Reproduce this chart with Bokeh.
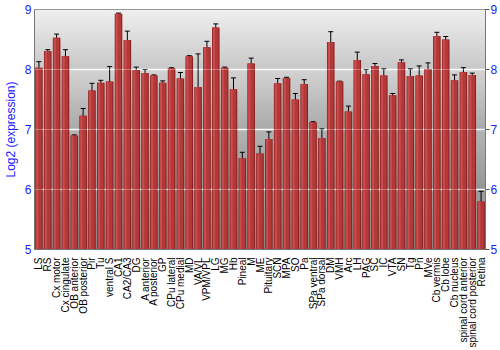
import numpy as np
from bokeh.plotting import figure
from bokeh.models import (ColumnDataSource, FactorRange, Range1d, LinearAxis, FixedTicker,
                          Whisker, TeeHead, Span)
from bokeh.transform import dodge
from bokeh.embed import file_html
from bokeh.resources import INLINE

regions = ["LS", "RS", "Cx motor", "Cx cingulate", "OB anterior", "OB posterior", "Pir", "Tu",
           "ventral S", "CA1", "CA2/CA3", "DG", "A anterior", "A posterior", "GP", "CPu lateral",
           "CPu medial", "MD", "VA/VL", "VPM/VPL", "LG", "MG", "Hb", "Pineal", "M", "ME",
           "Pituitary", "SCN", "MPA", "SO", "Pa", "SPa ventral", "SPa dorsal", "DM", "VMH", "Arc",
           "LH", "PAG", "SC", "IC", "VTA", "SN", "Tg", "Pn", "MVe", "Cb vermis", "Cb lobe",
           "Cb nucleus", "spinal cord anterior", "spinal cord posterior", "Retina"]
expression = [8.03, 8.31, 8.53, 8.22, 6.90, 7.23, 7.65, 7.78, 7.80, 8.93, 8.49, 7.99, 7.94, 7.90,
              7.78, 8.02, 7.85, 8.22, 7.71, 8.37, 8.70, 8.03, 7.67, 6.52, 8.10, 6.60, 6.84, 7.77,
              7.86, 7.50, 7.76, 7.12, 6.86, 8.46, 7.80, 7.30, 8.16, 7.92, 8.06, 7.90, 7.57, 8.12,
              7.89, 7.90, 8.01, 8.56, 8.50, 7.82, 7.96, 7.91, 5.80]
error = [0.10, 0.02, 0.06, 0.11, 0.01, 0.12, 0.12, 0.04, 0.25, 0.01, 0.15, 0.05, 0.06, 0.01,
         0.03, 0.01, 0.10, 0.01, 0.55, 0.10, 0.06, 0.01, 0.19, 0.10, 0.09, 0.12, 0.12, 0.08,
         0.01, 0.10, 0.07, 0.01, 0.15, 0.17, 0.005, 0.09, 0.13, 0.08, 0.04, 0.11, 0.03, 0.04,
         0.12, 0.16, 0.10, 0.06, 0.05, 0.09, 0.07, 0.03, 0.17]
y_ticks = [5, 6, 7, 8, 9]

src = ColumnDataSource(dict(
    cat=regions, val=expression,
    upper=[v + e for v, e in zip(expression, error)],
    lower=[v - e for v, e in zip(expression, error)],
))

p = figure(width=500, height=350, x_range=FactorRange(factors=regions, range_padding=0),
           y_range=Range1d(5, 9), output_backend="svg", toolbar_location=None,
           min_border_left=27, min_border_right=14, min_border_top=9, min_border_bottom=100)
p.outline_line_color = "#777777"
p.background_fill_color = "white"
p.border_fill_color = "white"

# background gradient (banded)
bands = {5: (136, 158), 6: (150, 180), 7: (170, 212), 8: (200, 240)}
rows = 400
img = np.zeros((rows, 2), dtype=np.uint32)
view = img.view(dtype=np.uint8).reshape((rows, 2, 4))
for i in range(rows):
    yv = 5 + 4 * (i + 0.5) / rows
    k = min(int(np.floor(yv)), 8)
    lo, hi = bands[k]
    g = int(lo + (hi - lo) * (yv - k))
    view[i, :, 0] = g
    view[i, :, 1] = g
    view[i, :, 2] = g
    view[i, :, 3] = 255
bg = p.image_rgba(image=[img], x=0, y=5, dw=len(regions), dh=4)
bg.level = "image"

# bars with horizontal shading
p.vbar(x="cat", top="val", bottom=5, width=0.86, source=src, fill_color="#8c2222", line_color=None)
p.vbar(x=dodge("cat", -0.03, range=p.x_range), top="val", bottom=5, width=0.68, source=src,
       fill_color="#b33838", line_color=None)
p.vbar(x=dodge("cat", -0.2, range=p.x_range), top="val", bottom=5, width=0.22, source=src,
       fill_color="#c94d4d", line_color=None)

p.add_layout(Whisker(base="cat", upper="upper", lower="lower", source=src, line_color="black",
                     line_width=1,
                     upper_head=TeeHead(size=5, line_color="black", line_width=1),
                     lower_head=TeeHead(size=5, line_color="black", line_width=1)))

# grid
p.xgrid.grid_line_color = None
p.ygrid.ticker = FixedTicker(ticks=[6, 7, 8])
p.ygrid.grid_line_color = "white"
p.ygrid.grid_line_width = 1.5
p.ygrid.grid_line_alpha = 0.9
for t in [6, 7, 8]:
    p.add_layout(Span(location=t, dimension="width", line_color="white", line_alpha=0.3,
                      line_width=1, level="overlay"))

blue = "#1a1aff"
# left axis
ya = p.yaxis[0]
ya.ticker = FixedTicker(ticks=y_ticks)
ya.axis_label = "Log2 (expression)"
ya.axis_label_text_color = blue
ya.axis_label_text_font = "Liberation Sans"
ya.axis_label_text_font_size = "12px"
ya.axis_label_text_font_style = "normal"
ya.axis_label_standoff = 4
ya.major_label_text_color = blue
ya.major_label_text_font = "Liberation Sans"
ya.major_label_text_font_size = "12px"
ya.major_label_standoff = 3
ya.major_tick_out = 0
ya.major_tick_in = 0
ya.minor_tick_line_color = None
ya.axis_line_color = "#777777"

ra = LinearAxis(ticker=FixedTicker(ticks=y_ticks))
ra.major_label_text_color = blue
ra.major_label_text_font = "Liberation Sans"
ra.major_label_text_font_size = "12px"
ra.major_label_standoff = 1
ra.major_tick_out = 4
ra.major_tick_in = 0
ra.major_tick_line_color = "#555555"
ra.minor_tick_line_color = None
ra.axis_line_color = "#777777"
p.add_layout(ra, "right")

xa = p.xaxis[0]
xa.major_label_orientation = np.pi / 2
xa.major_label_text_font = "Liberation Sans"
xa.major_label_text_font_size = "10px"
xa.major_label_text_color = "black"
xa.major_label_standoff = 2
xa.major_tick_line_color = None
xa.minor_tick_line_color = None
xa.axis_line_color = "#777777"

open("out.html", "w").write(file_html(p, INLINE))
